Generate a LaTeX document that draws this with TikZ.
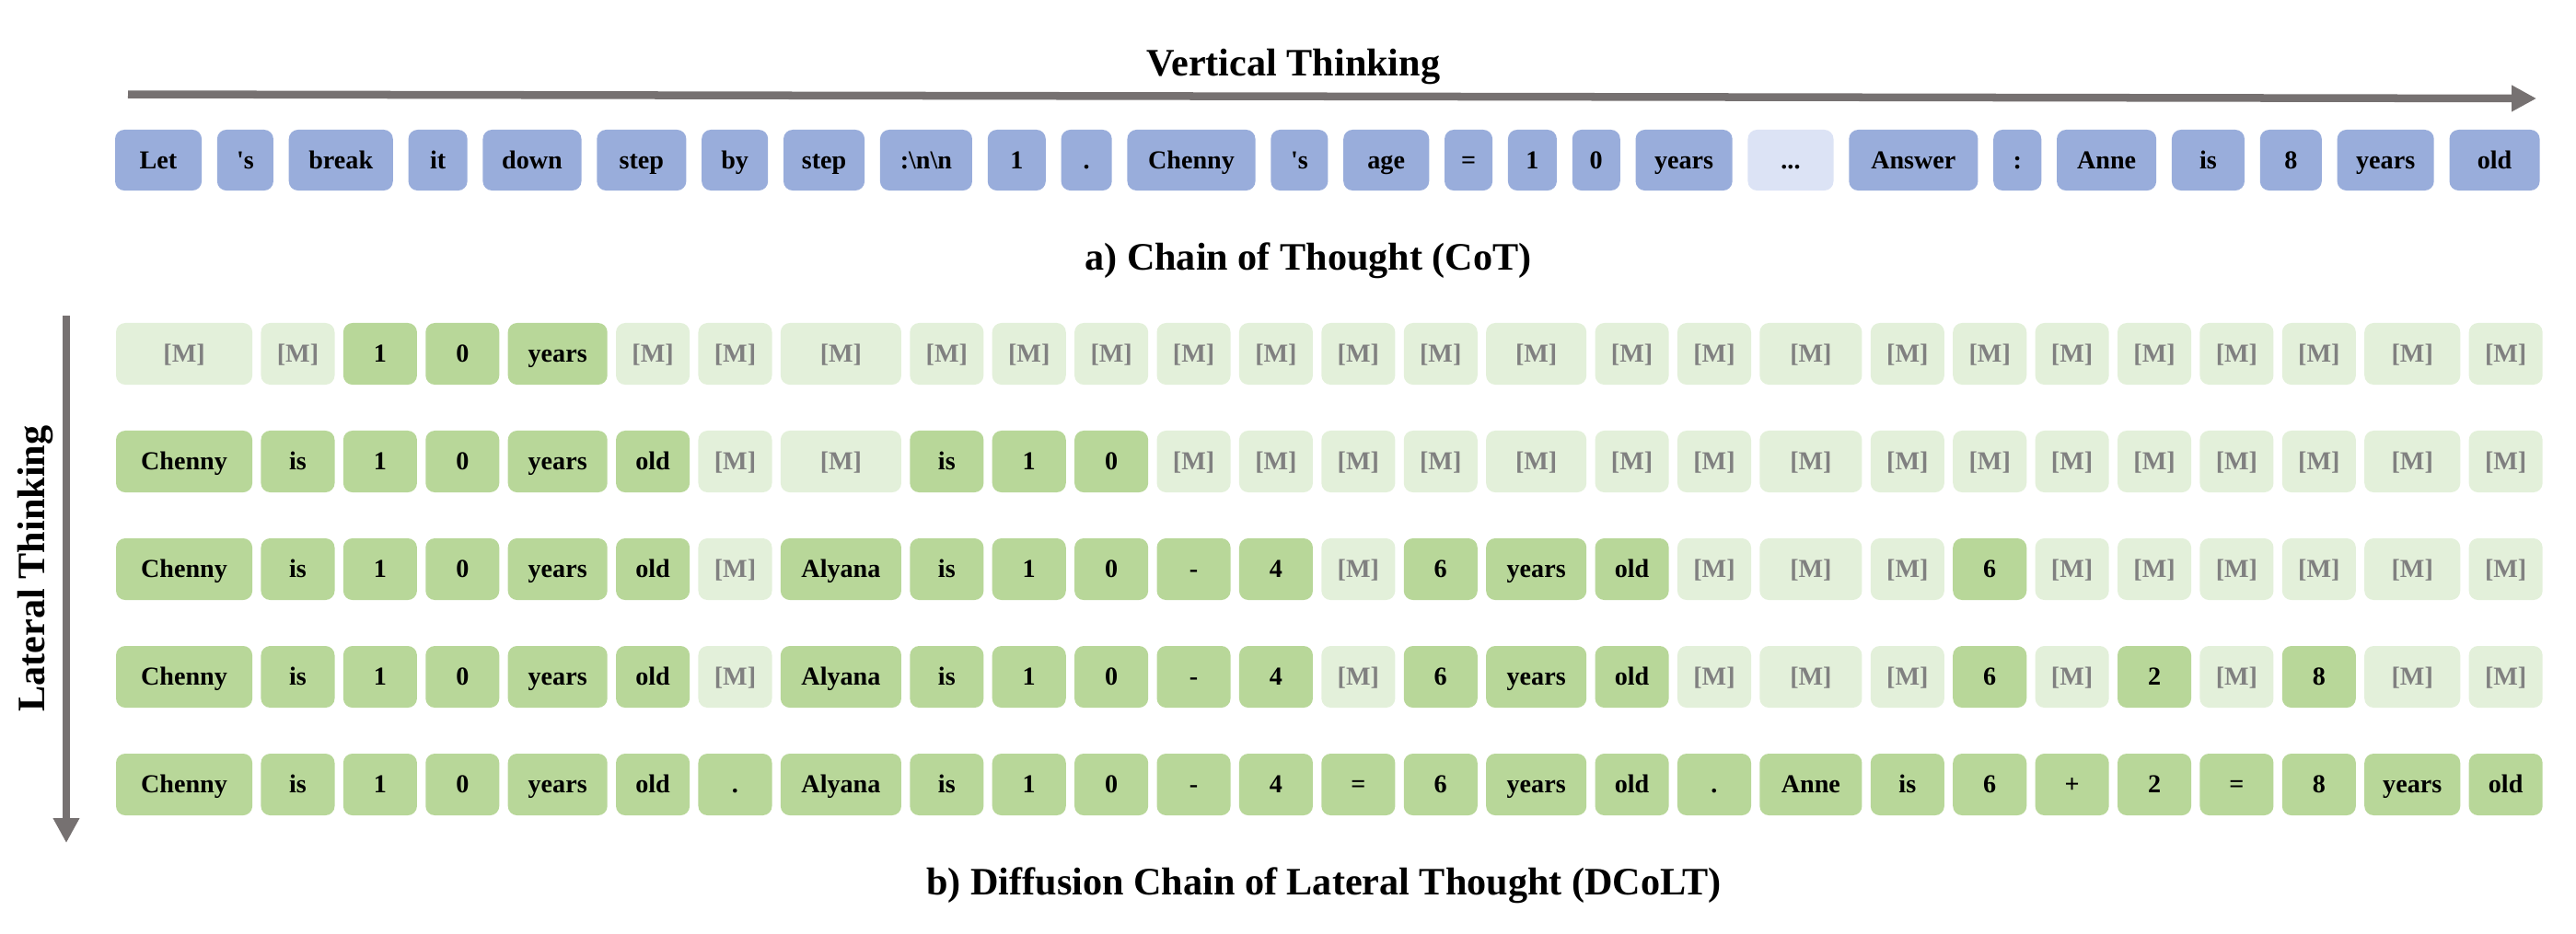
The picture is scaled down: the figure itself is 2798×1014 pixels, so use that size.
\documentclass[tikz,border=0pt]{standalone}
\usepackage{fontspec}
\setmainfont{Liberation Serif}
\usepackage{tikz}
\usetikzlibrary{arrows.meta}
\usetikzlibrary{positioning}
\definecolor{tokblue}{HTML}{99ADDB}
\definecolor{tokpale}{HTML}{DCE3F5}
\definecolor{tokgreen}{HTML}{B8D799}
\definecolor{tokmint}{HTML}{E3F0DA}
\definecolor{maskgray}{HTML}{808080}
\definecolor{arrowgray}{HTML}{767171}
% tokens of the last (fully decoded) line: width/text
\newcommand{\dcoltTokens}{1.48/Chenny,0.80/is,0.80/1,0.80/0,1.08/years,0.80/old,0.80/.,1.31/Alyana,0.80/is,0.80/1,0.80/0,0.80/-,0.80/4,0.80/=,0.80/6,1.09/years,0.80/old,0.80/.,1.11/Anne,0.80/is,0.80/6,0.80/+,0.80/2,0.80/=,0.80/8,1.04/years,0.80/old}

\begin{document}
\begin{tikzpicture}[x=0.01cm,
                    y=-0.01cm,
                    >={Triangle[length=0.27cm,width=0.27cm]},
                    flow/.style={->,draw=arrowgray,line width=0.085cm},
                    tk/.style={rounded corners=0.1cm,minimum height=0.66cm,inner sep=0pt,outer sep=0pt,
                               text height=5.3pt,text depth=0pt,font=\fontsize{8}{9.6}\selectfont\bfseries},
                    cts/.style={tk,fill=tokblue},
                    cds/.style={tk,fill=tokpale},
                    dks/.style={tk,fill=tokgreen,minimum height=0.67cm},
                    dms/.style={dks,fill=tokmint,text=maskgray},
                    lbl/.style={anchor=base,font=\fontsize{12}{14}\selectfont\bfseries}
                    ]
  \useasboundingbox (0,0) rectangle (2798,1014);

  % a) chain of thought
  \coordinate (a0) at (108.2,174);
  \foreach \s/\w/\t [count=\i] in {cts/0.94/Let,cts/0.61/\textquotesingle s,cts/1.13/break,cts/0.64/it,
      cts/1.07/down,cts/0.97/step,cts/0.72/by,cts/0.88/step,cts/1.00/:\textbackslash n\textbackslash n,
      cts/0.63/1,cts/0.55/.,cts/1.39/Chenny,cts/0.62/\textquotesingle s,cts/0.93/age,cts/0.52/=,
      cts/0.53/1,cts/0.52/0,cts/1.05/years,cds/0.93/.{}.{}.,cts/1.40/Answer,cts/0.52/:,
      cts/1.08/Anne,cts/0.79/is,cts/0.67/8,cts/1.05/years,cts/0.98/old} {
    \pgfmathtruncatemacro\j{\i-1}
    \node[\s,minimum width=\w cm,right=0.168cm of a\j] (a\i) {\t};
  }

  % b) diffusion chain of lateral thought, one line per step
  \foreach \mask [count=\r] in {
      {0,0,1,1,1,0,0,0,0,0,0,0,0,0,0,0,0,0,0,0,0,0,0,0,0,0,0},
      {1,1,1,1,1,1,0,0,1,1,1,0,0,0,0,0,0,0,0,0,0,0,0,0,0,0,0},
      {1,1,1,1,1,1,0,1,1,1,1,1,1,0,1,1,1,0,0,0,1,0,0,0,0,0,0},
      {1,1,1,1,1,1,0,1,1,1,1,1,1,0,1,1,1,0,0,0,1,0,1,0,1,0,0},
      {1,1,1,1,1,1,1,1,1,1,1,1,1,1,1,1,1,1,1,1,1,1,1,1,1,1,1}} {
    \coordinate (b\r-0) at (116.65,{384.5+117*(\r-1)});
    \foreach \w/\t [count=\i] in \dcoltTokens {
      \pgfmathtruncatemacro\j{\i-1}
      \pgfmathtruncatemacro\on{{\mask}[\j]}
      \ifnum\on=1 \def\sty{dks}\else\def\sty{dms}\fi
      \node[\sty,minimum width=\w cm,right=0.0935cm of b\r-\j] (b\r-\i) {\ifnum\on=1 \t\else[M]\fi};
    }
  }

  % axes and captions
  \coordinate (vs) at (139,102.5);
  \coordinate (ve) at (2755,107);
  \coordinate (ls) at (72,343);
  \coordinate (le) at (72,916);
  \draw[flow] (vs) -- (ve);
  \draw[flow] (ls) -- (le);
  \node[lbl] (vlab) at (1405,82) {Vertical Thinking};
  \node[lbl,rotate=90] (llab) at (48,618) {Lateral Thinking};
  \node[lbl] (cotlab) at (1421,293) {a) Chain of Thought (CoT)};
  \node[lbl] (dcoltlab) at (1438,972) {b) Diffusion Chain of Lateral Thought (DCoLT)};
\end{tikzpicture}
\end{document}
